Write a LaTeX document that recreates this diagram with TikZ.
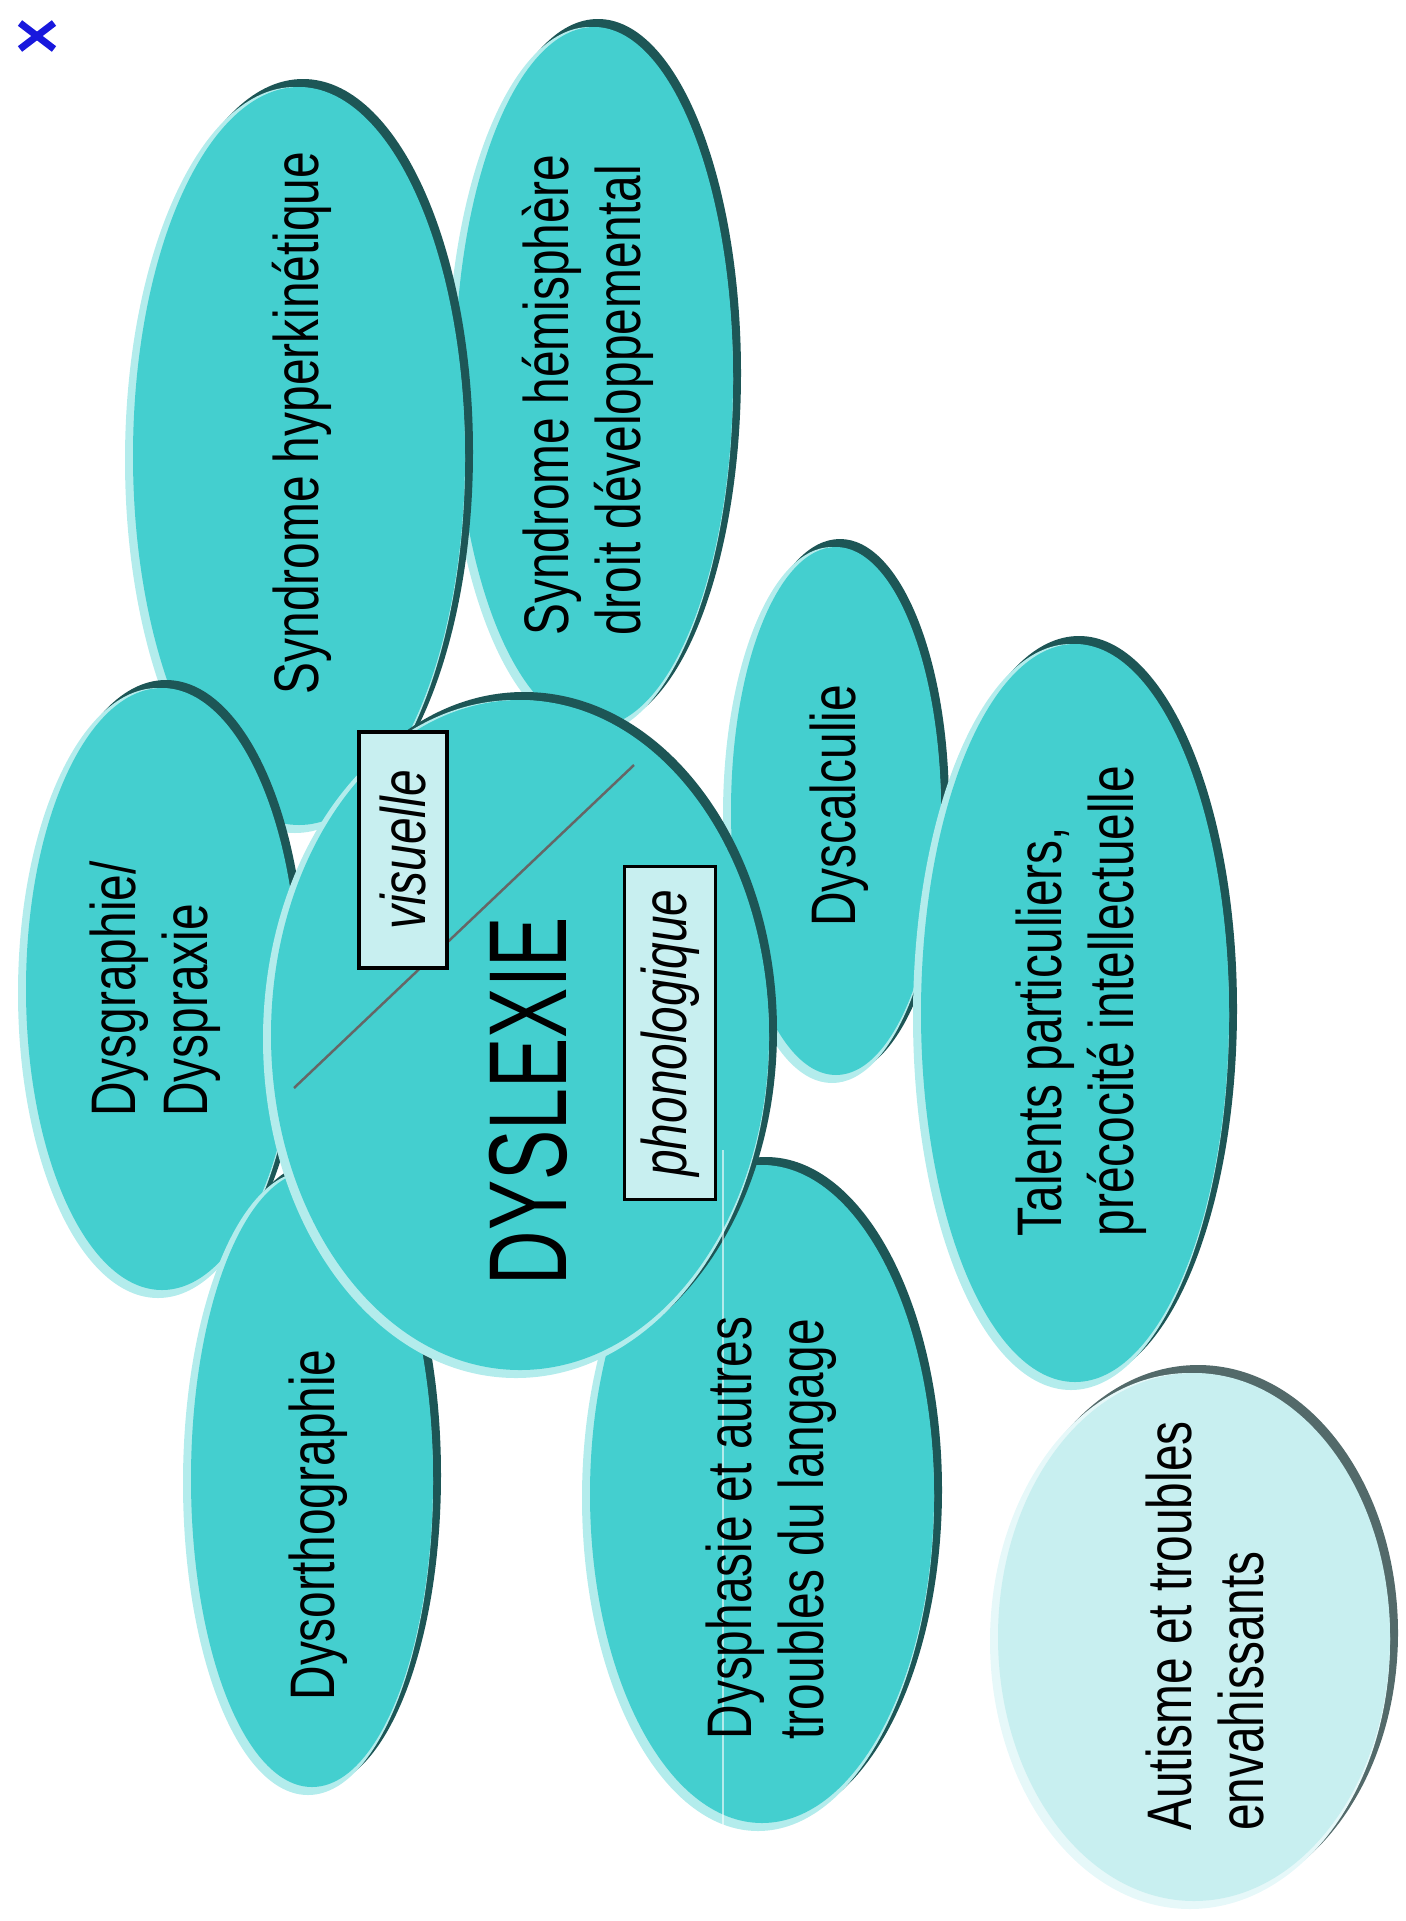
\documentclass[tikz,border=0pt]{standalone}
\usepackage{fontspec}
\setmainfont{Liberation Sans}[FakeStretch=0.76]
\newfontfamily\bigsans{Liberation Sans}[FakeStretch=0.68]
\usetikzlibrary{arrows, calc}

\definecolor{tealbase}{HTML}{44CFCF}
\definecolor{tealrim}{HTML}{1D5656}
\definecolor{tealglow}{HTML}{B3ECEC}
\definecolor{palebase}{HTML}{C8EFF0}
\definecolor{palerim}{HTML}{536A6A}
\definecolor{paleglow}{HTML}{E6F8F9}
\definecolor{closeblue}{HTML}{1818DD}
\definecolor{cutgray}{HTML}{666666}

\begin{document}
\begin{tikzpicture}[x=0.01cm, y=-0.01cm,
        lbl/.style={rotate=90, align=left, inner sep=0pt, font=\fontsize{17.9pt}{20.5pt}\selectfont},
        tag/.style={rotate=90, draw=black, line width=1pt, fill=palebase, inner sep=0pt,
            font=\fontsize{17.9pt}{20.5pt}\selectfont\itshape}]
    \useasboundingbox (0,0) rectangle (1406,1921);

    % ellipses, back to front
    \foreach \cx/\cy/\rx/\ry/\base/\rim/\glow in {
            594/377/147/358/tealbase/tealrim/tealglow,
            299/456/174/377/tealbase/tealrim/tealglow,
            162/989/144/309/tealbase/tealrim/tealglow,
            312/1479/129/316/tealbase/tealrim/tealglow,
            836/811/113/272/tealbase/tealrim/tealglow,
            1194/1637/204/272/palebase/palerim/paleglow,
            1075/1013/162/377/tealbase/tealrim/tealglow,
            762/1494/180/337/tealbase/tealrim/tealglow,
            520/1035/257/343/tealbase/tealrim/tealglow} {
        \fill[fill=\rim] (\cx+4,\cy-4) ellipse [x radius=\rx-4, y radius=\ry-4];
        \fill[fill=\glow] (\cx-4,\cy+4) ellipse [x radius=\rx-4, y radius=\ry-4];
        \fill[fill=\base] (\cx,\cy) ellipse [x radius=\rx-8, y radius=\ry-8];
    }

    \draw[white, opacity=0.6, line width=0.3pt] (723,1150) -- (723,1830);

    % split of the dyslexie circle
    \coordinate (cutA) at (294,1088);
    \coordinate (cutB) at (634,765);
    \draw[cutgray, line width=0.7pt] (cutA) -- (cutB);

    \node[lbl] (hemi) at (588,395) {Syndrome hémisphère\\droit développemental};
    \node[lbl] (hyper) at (302,423) {Syndrome hyperkinétique};
    \node[lbl] (dysgr) at (155,989) {Dysgraphie/\\Dyspraxie};
    \node[lbl] (dysorth) at (318,1525) {Dysorthographie};
    \node[lbl] (dyscalc) at (839,806) {Dyscalculie};
    \node[lbl] (talents) at (1081,1001) {Talents particuliers,\\précocité intellectuelle};
    \node[lbl] (dysphas) at (771,1528) {Dysphasie et autres\\troubles du langage};
    \node[lbl] (autisme) at (1205,1626) {Autisme et troubles\\envahissants};
    \node[lbl, font=\bigsans\fontsize{31.5pt}{36pt}\selectfont] (dyslexie) at (528,1101) {DYSLEXIE};

    \node[tag, minimum width=2.36cm, minimum height=0.88cm] (visu) at (403,850) {visuelle};
    \node[tag, minimum width=3.33cm, minimum height=0.91cm] (phono) at (670,1033) {phonologique};

    % close mark
    \draw[closeblue, line width=0.07cm] (20,23) -- (54,49) (20,49) -- (54,23);
\end{tikzpicture}
\end{document}
